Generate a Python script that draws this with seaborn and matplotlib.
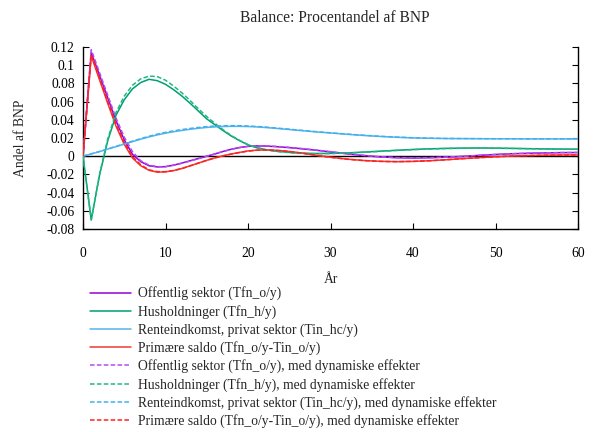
import matplotlib
matplotlib.use("Agg")
import matplotlib.pyplot as plt
import seaborn as sns
import numpy as np
import pandas as pd

years = list(range(0, 31)) + list(range(32, 61, 2))

off_solid = [0, 0.114, 0.089, 0.064, 0.039, 0.018, 0.002, -0.006, -0.0105, -0.0118, -0.0115, -0.0098,
             -0.0075, -0.005, -0.0025, 0.000, 0.0025, 0.0053, 0.0077, 0.0096, 0.0108, 0.0113, 0.0112,
             0.0107, 0.0101, 0.0094, 0.0086, 0.0077, 0.0068, 0.0058, 0.0047,
             0.0026, 0.0007, -0.0008, -0.0017, -0.002, -0.0017, -0.0011, -0.0003, 0.0009, 0.0019,
             0.0027, 0.0032, 0.0036, 0.0039, 0.004]
hus_solid = [0, -0.070, -0.021, 0.017, 0.045, 0.062, 0.074, 0.081, 0.0845, 0.083, 0.079, 0.073, 0.066,
             0.058, 0.0495, 0.041, 0.0345, 0.028, 0.022, 0.017, 0.0125, 0.0095, 0.0075, 0.006, 0.005,
             0.0042, 0.0036, 0.0032, 0.003, 0.003, 0.0031,
             0.0036, 0.0045, 0.0055, 0.0065, 0.0074, 0.0081, 0.0086, 0.0089, 0.009, 0.0089, 0.0086,
             0.0083, 0.008, 0.0078, 0.0077]
rente_solid = [0, 0.0025, 0.005, 0.0078, 0.0105, 0.0133, 0.016, 0.0187, 0.0212, 0.0234, 0.0253, 0.0269,
               0.0283, 0.0296, 0.0307, 0.0316, 0.0322, 0.0326, 0.0328, 0.0328, 0.0326, 0.0322, 0.0316,
               0.0309, 0.0301, 0.0293, 0.0285, 0.0277, 0.0269, 0.0262, 0.0255,
               0.0241, 0.0228, 0.0217, 0.0208, 0.0201, 0.0197, 0.0194, 0.0193, 0.0192, 0.0191, 0.0191,
               0.019, 0.019, 0.019, 0.019]
prim_solid = [0, 0.110, 0.084, 0.058, 0.033, 0.013, -0.002, -0.0105, -0.0155, -0.0175, -0.0172, -0.0158,
              -0.0135, -0.0105, -0.0075, -0.0045, -0.0018, 0.0005, 0.0025, 0.0042, 0.0058, 0.0066,
              0.0069, 0.0067, 0.0061, 0.0052, 0.0041, 0.0028, 0.0014, 0.0001, -0.0011,
              -0.0032, -0.0047, -0.0056, -0.006, -0.0057, -0.005, -0.0039, -0.0027, -0.0016, -0.0006,
              0.0002, 0.0007, 0.0011, 0.0013, 0.0014]

off_dyn = [0, 0.117, 0.092, 0.067, 0.042, 0.021, 0.005, -0.005, -0.0098, -0.0115, -0.0115, -0.010,
           -0.0078, -0.0053, -0.0027, 0.000, 0.0025, 0.0052, 0.0076, 0.0095, 0.0108, 0.0114, 0.0114,
           0.011, 0.0104, 0.0097, 0.0089, 0.008, 0.007, 0.006, 0.005,
           0.0029, 0.001, -0.0006, -0.0015, -0.0018, -0.0016, -0.001, -0.0002, 0.0009, 0.0019,
           0.0027, 0.0033, 0.0037, 0.004, 0.0041]
hus_dyn = [0, -0.070, -0.020, 0.019, 0.048, 0.066, 0.078, 0.085, 0.088, 0.0875, 0.0835, 0.077, 0.0695,
           0.061, 0.052, 0.0435, 0.036, 0.029, 0.0225, 0.0172, 0.0127, 0.0096, 0.0074, 0.0058, 0.0047,
           0.0039, 0.0033, 0.003, 0.0028, 0.0028, 0.0029,
           0.0034, 0.0043, 0.0053, 0.0063, 0.0072, 0.0079, 0.0084, 0.0087, 0.0088, 0.0087, 0.0085,
           0.0082, 0.0079, 0.0077, 0.0076]
rente_dyn = [0, 0.0026, 0.0052, 0.008, 0.0108, 0.0137, 0.0165, 0.0193, 0.0219, 0.0242, 0.0262, 0.0279,
             0.0293, 0.0305, 0.0316, 0.0325, 0.0331, 0.0335, 0.0336, 0.0335, 0.0332, 0.0327, 0.0321,
             0.0313, 0.0305, 0.0297, 0.0288, 0.028, 0.0272, 0.0264, 0.0257,
             0.0243, 0.023, 0.0219, 0.021, 0.0203, 0.0198, 0.0195, 0.0194, 0.0193, 0.0192, 0.0192,
             0.0191, 0.0191, 0.0191, 0.0191]
prim_dyn = [0, 0.112, 0.086, 0.060, 0.035, 0.015, -0.0005, -0.0095, -0.015, -0.017, -0.0170, -0.0157,
            -0.0135, -0.0106, -0.0076, -0.0046, -0.0019, 0.0004, 0.0024, 0.0041, 0.0056, 0.0065,
            0.0068, 0.0066, 0.006, 0.0051, 0.004, 0.0027, 0.0013, 0.0, -0.0012,
            -0.0033, -0.0048, -0.0057, -0.006, -0.0057, -0.005, -0.0039, -0.0027, -0.0016, -0.0006,
            0.0002, 0.0007, 0.0011, 0.0013, 0.0014]

labels = [
    "Offentlig sektor (Tfn_o/y)",
    "Husholdninger (Tfn_h/y)",
    "Renteindkomst, privat sektor (Tin_hc/y)",
    "Primære saldo (Tfn_o/y-Tin_o/y)",
    "Offentlig sektor (Tfn_o/y), med dynamiske effekter",
    "Husholdninger (Tfn_h/y), med dynamiske effekter",
    "Renteindkomst, privat sektor (Tin_hc/y), med dynamiske effekter",
    "Primære saldo (Tfn_o/y-Tin_o/y), med dynamiske effekter",
]
series = [off_solid, hus_solid, rente_solid, prim_solid, off_dyn, hus_dyn, rente_dyn, prim_dyn]
xticks = [0, 10, 20, 30, 40, 50, 60]
yticks = [-0.08, -0.06, -0.04, -0.02, 0, 0.02, 0.04, 0.06, 0.08, 0.1, 0.12]

colors = ["#9400d3", "#009e73", "#56b4e9", "#ee3a30",
          "#b050f0", "#20b882", "#40b0f0", "#ff2020"]

sns.set_style("white")
plt.rcParams["font.family"] = ["Liberation Serif", "DejaVu Serif"]
plt.rcParams["axes.unicode_minus"] = False

fig = plt.figure(figsize=(5.95, 4.32), dpi=100)
ax = fig.add_axes([83 / 595, 1 - 229 / 432, (578 - 83) / 595, (229 - 47) / 432])

ax.axhline(0, color="black", lw=1.0, zorder=1)

handles = []
for i, (lab, vals) in enumerate(zip(labels, series)):
    df = pd.DataFrame({"x": years, "y": vals})
    dashed = i >= 4
    sns.lineplot(data=df, x="x", y="y", ax=ax, color=colors[i], lw=1.1,
                 linestyle=(0, (3, 1.5)) if dashed else "-", zorder=2 + i)
    handles.append(ax.lines[-1])

ax.set_xlim(0, 60)
ax.set_ylim(-0.08, 0.12)
ax.set_xticks(xticks)
ax.set_yticks(yticks)
ax.set_yticklabels([("%g" % v) for v in yticks])
ax.set_xticklabels([str(v) for v in xticks])

for s in ["left", "bottom", "right"]:
    ax.spines[s].set_visible(True)
    ax.spines[s].set_color("black")
    ax.spines[s].set_linewidth(1.0)
ax.spines["top"].set_visible(False)

ax.tick_params(axis="both", direction="in", length=4, width=0.8, labelsize=9.8, colors="black")
ax.tick_params(axis="y", right=True, left=True, pad=6)
ax.tick_params(axis="x", bottom=True, top=False, pad=13)

ax.set_xlabel("År", fontsize=9.8, labelpad=9)
ax.set_ylabel("Andel af BNP", fontsize=9.8, labelpad=14)
fig.text(335 / 595, 1 - 18 / 432, "Balance: Procentandel af BNP", ha="center", va="center", fontsize=11.2)

leg = fig.legend(handles, labels, loc="upper left", bbox_to_anchor=(90 / 595, 1 - 286.5 / 432),
                 frameon=False, fontsize=9.8, handlelength=3.0, handletextpad=0.55,
                 labelspacing=0.32, borderpad=0, borderaxespad=0)

fig.savefig("out.png", dpi=100)
